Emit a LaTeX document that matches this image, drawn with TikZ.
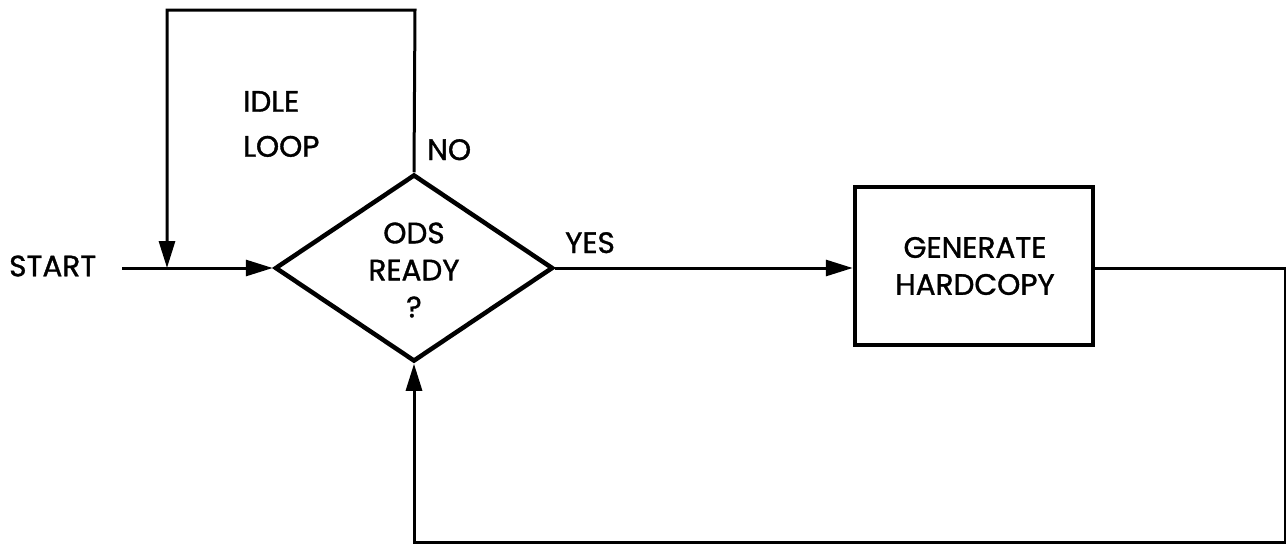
\documentclass[tikz,border=0pt]{standalone}
\usepackage{fontspec}
\setmainfont{Poppins}[FakeBold=1.2]
\usetikzlibrary{arrows.meta,shapes.geometric}
\begin{document}
\begin{tikzpicture}[x=1pt,y=-1pt,
  txt/.style={inner sep=0pt,font=\fontsize{29.5}{37}\selectfont},
  flow/.style={line width=3pt,-{Triangle[length=27pt,width=16pt]}},
  decision/.style={diamond,draw,line width=4.5pt,minimum width=278pt,minimum height=187pt,inner sep=0pt},
  process/.style={rectangle,draw,line width=4.5pt,minimum width=238pt,minimum height=158pt,inner sep=0pt}]
\useasboundingbox (0,0) rectangle (1286,544);
% shapes
\node[decision] (dia) at (414,268) {};
\node[txt,align=center] (diatext) at (414,270) {ODS\\READY\\?};
\node[process] (box) at (974,266) {};
\node[txt,align=center] (boxtext) at (975,266) {GENERATE\\HARDCOPY};
% labels
\node[txt,anchor=west] (start) at (9,266) {START};
\node[txt,anchor=west,align=left,font=\fontsize{29.5}{45}\selectfont] (idle) at (243,124) {IDLE\\LOOP};
\node[txt,anchor=base west] (no) at (427,160) {NO};
\node[txt,anchor=base west] (yes) at (565,253) {YES};
% coordinates
\coordinate (s0) at (122,268);
\coordinate (j) at (167,268);
\coordinate (lt) at (415,10);
\coordinate (ll) at (167,10);
\coordinate (r1) at (1285,268);
\coordinate (r2) at (1285,542);
\coordinate (b1) at (414,542);
% connectors
\draw[flow] (s0) -- (dia.west);
\draw[flow] (dia.north) -- (lt) -- (ll) -- (j);
\draw[flow] (dia.east) -- (box.west |- dia.east);
\draw[flow] (box.east |- dia.east) -- (r1) -- (r2) -- (b1) -- (dia.south);
\end{tikzpicture}
\end{document}
